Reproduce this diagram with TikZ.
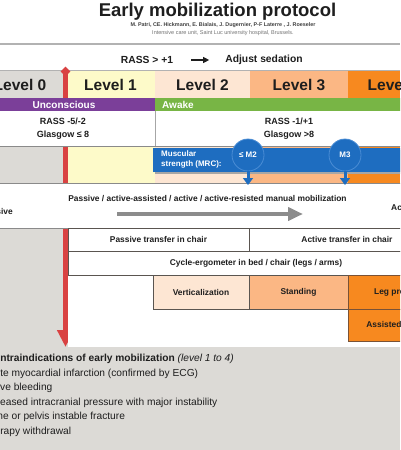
\documentclass[tikz,border=0pt]{standalone}
\usepackage{fontspec}
\setmainfont{Liberation Sans}
\usetikzlibrary{arrows.meta,shapes.geometric}
\newcommand\myfs[2]{\fontsize{#1}{#2}\selectfont}
\definecolor{lvzero}{HTML}{DCDAD6}
\definecolor{lvone}{HTML}{FDFAC9}
\definecolor{lvtwo}{HTML}{FDE6D3}
\definecolor{lvthree}{HTML}{FBB784}
\definecolor{lvfour}{HTML}{F7891F}
\definecolor{uncpurple}{HTML}{7B3F99}
\definecolor{awakegreen}{HTML}{78B545}
\definecolor{mrcblue}{HTML}{1E6DC0}
\definecolor{mrcrim}{HTML}{4A8CD4}
\definecolor{redarrow}{HTML}{D94242}
\definecolor{progressgray}{HTML}{8C8C8C}
\definecolor{linegray}{HTML}{8A8A8A}
\definecolor{txtdark}{HTML}{1E1E1E}
\definecolor{boxedge}{HTML}{5A5550}
\definecolor{orangeedge}{HTML}{7A5236}
\tikzset{
  lvltxt/.style={inner sep=0, font=\myfs{15.5}{18}\bfseries, text=txtdark},
  boldtxt/.style={inner sep=0, font=\myfs{8.4}{10}\bfseries, text=txtdark},
  cellbox/.style={rectangle, draw=boxedge, line width=0.7, inner sep=0,
    font=\myfs{8.4}{10}\bfseries, text=txtdark},
  mrccircle/.style={circle, fill=mrcblue, draw=mrcrim, line width=0.8,
    minimum size=32, inner sep=0, font=\myfs{8}{10}\bfseries, text=white},
  mrcarrow/.style={mrcblue, line width=3, -{Triangle[width=10pt,length=7pt]}},
  contra/.style={anchor=west, inner sep=0, font=\myfs{10.2}{12}, text=txtdark},
}
\begin{document}
\begin{tikzpicture}[x=1pt,y=-1pt]
\useasboundingbox (0,0) rectangle (400,450);
\clip (0,0) rectangle (400,450);
\fill[white] (0,0) rectangle (400,450);

% header
\node[anchor=base, inner sep=0, font=\myfs{18.5}{20}\bfseries, text=txtdark] (title) at (217.5,16) {Early mobilization protocol};
\node[inner sep=0, font=\myfs{5.4}{6}\bfseries, text=black!75] (authors) at (223,25) {M. Patri, CE. Hickmann, E. Bialais, J. Dugernier, P-F Laterre , J. Roeseler};
\node[inner sep=0, font=\myfs{5.5}{6}, text=black!55] (affil) at (223,33.5) {Intensive care unit, Saint Luc university hospital, Brussels.};
\draw[black!30, line width=1.2] (0,44) -- (400,44);
\node[inner sep=0, font=\myfs{10.3}{12}\bfseries, text=txtdark] (rass) at (147,60) {RASS > +1};
\node[inner sep=0, font=\myfs{10.3}{12}\bfseries, text=txtdark] (adjust) at (264,60) {Adjust sedation};
\draw[txtdark, line width=1.1, -{Triangle[width=6pt,length=6pt]}] ([xshift=18pt]rass.east) -- ([xshift=-16pt]adjust.west);

% background greys and level columns
\fill[lvzero] (0,71) rectangle (400,450);
\fill[lvone] (66,71) rectangle (155,183);
\fill[lvtwo] (155,71) rectangle (250,183);
\fill[lvthree] (250,71) rectangle (348,183);
\fill[lvfour] (348,71) rectangle (400,183);
\draw[black!30, line width=1.2] (0,70.5) -- (400,70.5);

\node[lvltxt] (l0) at (20,85) {Level 0};
\node[lvltxt] (l1) at (110.5,85) {Level 1};
\node[lvltxt] (l2) at (202.5,85) {Level 2};
\node[lvltxt] (l3) at (299,85) {Level 3};
\node[lvltxt] (l4) at (394,85) {Level 4};

% red arrow
\node[diamond, fill=redarrow, minimum size=10, inner sep=0] (reddia) at (65.5,71.5) {};
\coordinate (redtip) at (65.5,347);
\draw[redarrow, line width=5, -{Triangle[width=16pt,length=17pt]}] (reddia.center) -- (redtip);

% consciousness bars
\node[rectangle, fill=uncpurple, minimum width=182, minimum height=13, inner sep=0,
  font=\myfs{10}{12}\bfseries, text=white] (unc) at (64,104.5) {Unconscious};
\fill[awakegreen] (155,98) rectangle (410,111);
\node[anchor=west, inner sep=0, font=\myfs{10}{12}\bfseries, text=white] (awake) at (162,104.5) {Awake};

% RASS row
\fill[white] (-5,111) rectangle (405,146);
\draw[linegray, line width=0.8] (-5,146) -- (405,146);
\draw[black!35, line width=0.6] (155,111) -- (155,146);
\node[align=center, inner sep=0, font=\myfs{9}{13}\bfseries, text=txtdark] (rassl) at (63,128.5) {RASS -5/-2\\Glasgow ≤ 8};
\node[align=center, inner sep=0, font=\myfs{9}{13}\bfseries, text=txtdark] (rassr) at (289,128.5) {RASS -1/+1\\Glasgow >8};

% muscular strength bar
\fill[black!35] (154.5,149.5) rectangle (410,173.5);
\fill[mrcblue] (153,148) rectangle (410,172);
\node[anchor=west, align=left, inner sep=0, font=\myfs{8}{10.5}\bfseries, text=white] (mrctxt) at (161,159.5) {Muscular\\strength (MRC):};
\node[mrccircle] (m2) at (248,155) {≤ M2};
\node[mrccircle] (m3) at (345,155) {M3};

% manual mobilization row
\fill[white] (-5,183) rectangle (405,228);
\draw[linegray, line width=0.8] (-5,183) -- (405,183);
\draw[linegray, line width=0.8] (-5,228) -- (405,228);
\coordinate (m2tip) at (248,185);
\coordinate (m3tip) at (345,185);
\draw[mrcarrow] (m2) -- (m2tip);
\draw[mrcarrow] (m3) -- (m3tip);
\node[boldtxt] (manual) at (207.5,199) {Passive / active-assisted / active / active-resisted manual mobilization};
\node[boldtxt, anchor=east] (passive) at (13,211.5) {Passive};
\node[boldtxt, anchor=west] (active) at (391,207) {Active};
\coordinate (ga1) at (117,214);
\coordinate (ga2) at (303,214);
\draw[progressgray, line width=4.5, -{Triangle[width=13pt,length=15pt]}] (ga1) -- (ga2);

% activity panel
\fill[white] (68,228) rectangle (410,347);
\node[cellbox, minimum width=181, minimum height=23] (ptr) at (158.5,239.5) {Passive transfer in chair};
\node[cellbox, minimum width=196, minimum height=23] (atr) at (347,239.5) {Active transfer in chair};
\node[cellbox, minimum width=376, minimum height=24] (cyc) at (256,263) {Cycle-ergometer in bed / chair (legs / arms)};
\node[cellbox, fill=lvtwo, minimum width=96, minimum height=34] (vert) at (201,292) {Verticalization};
\node[cellbox, fill=lvthree, minimum width=99, minimum height=34] (stand) at (298.5,292) {Standing};
\node[cellbox, fill=lvfour, draw=orangeedge, minimum width=92, minimum height=34] (legp) at (394,292) {Leg press};
\node[cellbox, fill=lvfour, draw=orangeedge, minimum width=105, minimum height=32] (assist) at (400.5,325) {Assisted walking};

% contraindications
\node[contra] (ci0) at (-13.5,359) {\bfseries Contraindications of early mobilization \itshape\mdseries (level 1 to 4)};
\node[contra] (ci1) at (-17.5,373.5) {Acute myocardial infarction (confirmed by ECG)};
\node[contra] (ci2) at (-17,388) {Active bleeding};
\node[contra] (ci3) at (-17,402.5) {Increased intracranial pressure with major instability};
\node[contra] (ci4) at (-17.5,417) {Spine or pelvis instable fracture};
\node[contra] (ci5) at (-17.5,431.5) {Therapy withdrawal};
\end{tikzpicture}
\end{document}
